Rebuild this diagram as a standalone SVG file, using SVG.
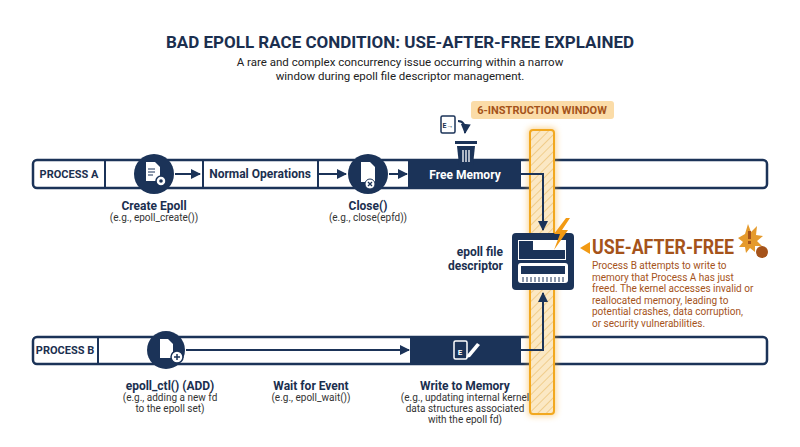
<svg xmlns="http://www.w3.org/2000/svg" width="800" height="447" viewBox="0 0 800 447">
<defs>
<style>
text{font-family:Roboto,"Liberation Sans",sans-serif;fill:#1b2f4f}
.t{font-weight:bold;font-size:12px;text-anchor:middle}
.s{font-size:10px;text-anchor:middle;fill:#333}
.bar{fill:#fff;stroke:#1b3358;stroke-width:2.5}
.ln{stroke:#1b3358;stroke-width:2;fill:none}
.dk{fill:#1b3358}
.o{fill:#a5531a;font-size:10px}
</style>
<marker id="ah" viewBox="0 0 10 10" refX="9" refY="5" markerWidth="5" markerHeight="5" orient="auto"><path d="M0,0L10,5L0,10z" fill="#1b3358"/></marker>
<pattern id="hatch" width="6" height="6" patternUnits="userSpaceOnUse" patternTransform="rotate(45)"><rect width="6" height="6" fill="#fbe8c4"/><line x1="0" y1="0" x2="0" y2="6" stroke="#f0cd8c" stroke-width="2"/></pattern>
<filter id="glow" x="-50%" y="-10%" width="200%" height="120%"><feGaussianBlur stdDeviation="3"/></filter>
</defs>
<rect width="800" height="447" fill="#fff"/>
<text x="400" y="48" style="font-size:17px;font-weight:bold;text-anchor:middle">BAD EPOLL RACE CONDITION: USE-AFTER-FREE EXPLAINED</text>
<text x="400" y="66" style="font-size:11.5px;text-anchor:middle;fill:#222">A rare and complex concurrency issue occurring within a narrow</text>
<text x="400" y="80" style="font-size:11.5px;text-anchor:middle;fill:#222">window during epoll file descriptor management.</text>

<g id="processA">
<rect class="bar" x="33" y="160" width="734" height="28" rx="4"/>
<line class="ln" x1="105" y1="160" x2="105" y2="188"/>
<text x="69" y="178" class="t" style="font-size:11px">PROCESS A</text>
</g>
<g id="processB">
<rect class="bar" x="33" y="337" width="734" height="27" rx="4"/>
<line class="ln" x1="98" y1="337" x2="98" y2="364"/>
<text x="65" y="354" class="t" style="font-size:11px">PROCESS B</text>
</g>

<g id="window">
<rect x="528" y="128" width="28" height="288" rx="4" fill="#f6a623" opacity="0.5" filter="url(#glow)"/>
<rect x="530" y="130" width="24" height="284" rx="3" fill="url(#hatch)" stroke="#f2a81f" stroke-width="2"/>
<rect x="471" y="101" width="143" height="18" rx="3" fill="#fbdca8"/>
<text x="542" y="114" style="font-size:11px;font-weight:bold;text-anchor:middle;fill:#a5531a">6-INSTRUCTION WINDOW</text>
</g>

<g id="createEpoll">
<circle cx="154" cy="174" r="20" class="dk"/>
<path d="M146,162h9l5,5v14h-14z" fill="#fff"/>
<path d="M148,169h7M148,172h7M148,175h5" stroke="#1b3358" stroke-width="1"/>
<circle cx="161" cy="181" r="5" fill="#fff" stroke="#1b3358" stroke-width="1.5"/>
<circle cx="161" cy="181" r="1.8" class="dk"/>
<text x="154" y="210" class="t">Create Epoll</text>
<text x="154" y="221" class="s">(e.g., epoll_create())</text>
</g>
<g id="normalOps">
<line class="ln" x1="203" y1="160" x2="203" y2="188"/>
<line class="ln" x1="318" y1="160" x2="318" y2="188"/>
<text x="260" y="178" class="t">Normal Operations</text>
</g>
<g id="close">
<circle cx="368" cy="174" r="20" class="dk"/>
<path d="M361,162h9l5,5v15h-14z" fill="#fff"/>
<circle cx="370" cy="184" r="5" fill="#fff" stroke="#1b3358" stroke-width="1"/>
<path d="M368,182l4,4M372,182l-4,4" stroke="#1b3358" stroke-width="1.3"/>
<text x="368" y="210" class="t">Close()</text>
<text x="368" y="221" class="s">(e.g., close(epfd))</text>
</g>
<g id="freeMemory">
<rect x="408" y="160" width="113" height="28" class="dk"/>
<text x="465" y="179" class="t" style="fill:#fff">Free Memory</text>
<rect x="441" y="116" width="14" height="17" rx="1.5" fill="#fff" stroke="#1b3358" stroke-width="1.5"/>
<text x="448" y="128" style="font-size:7px;font-weight:bold;text-anchor:middle">E→</text>
<path d="M458,121q8,0 7,12" class="ln" stroke-width="1.5" marker-end="url(#ah)"/>
<rect x="455" y="141" width="22" height="3" class="dk"/>
<path d="M457,146h18l-2,19h-14z" class="dk"/>
<path d="M463,150v12M466,150v12M469,150v12" stroke="#fff" stroke-width="1.3"/>
</g>
<g id="epollCtl">
<circle cx="166" cy="350" r="19" class="dk"/>
<path d="M160,339h8l5,5v14h-13z" fill="#fff"/>
<circle cx="177" cy="357" r="6" fill="#fff" stroke="#1b3358" stroke-width="1.5"/>
<path d="M174,357h6M177,354v6" stroke="#1b3358" stroke-width="1.5"/>
<text x="170" y="390" class="t">epoll_ctl() (ADD)</text>
<text x="170" y="401" class="s">(e.g., adding a new fd</text>
<text x="170" y="412" class="s">to the epoll set)</text>
</g>
<g id="waitEvent">
<text x="311" y="390" class="t">Wait for Event</text>
<text x="311" y="401" class="s">(e.g., epoll_wait())</text>
</g>
<g id="writeMemory">
<rect x="410" y="337" width="111" height="27" class="dk"/>
<rect x="454" y="341" width="13" height="18" rx="1.5" fill="none" stroke="#fff" stroke-width="1.5"/>
<text x="460" y="355" style="font-size:8px;font-weight:bold;fill:#fff;text-anchor:middle">E</text>
<path d="M467,355l10,-12l3,2l-10,12l-4,1z" fill="#fff"/>
<text x="465" y="390" class="t">Write to Memory</text>
<text x="465" y="401" class="s">(e.g., updating internal kernel</text>
<text x="465" y="412" class="s">data structures associated</text>
<text x="465" y="423" class="s">with the epoll fd)</text>
</g>
<g id="epollFd">
<rect x="512" y="233" width="62" height="57" rx="4" class="dk"/>
<rect x="518" y="240" width="48" height="20" fill="#fff"/>
<rect x="519" y="241" width="14" height="18" class="dk"/>
<rect x="533" y="250" width="32" height="9" class="dk"/>
<rect x="518" y="263" width="50" height="20" rx="3" fill="#fff"/>
<rect x="521" y="266" width="44" height="8" class="dk"/>
<path d="M523,277v5M527,277v5M531,277v5M535,277v5M539,277v5M543,277v5M547,277v5M551,277v5M555,277v5M559,277v5M563,277v5" stroke="#1b3358" stroke-width="1"/>
<path d="M566,218l-12,16h6l-6,16l14,-20h-6l8,-12z" fill="#f29a13"/>
<text x="503" y="256" class="t" style="text-anchor:end">epoll file</text>
<text x="503" y="270" class="t" style="text-anchor:end">descriptor</text>
</g>
<g id="useAfterFree">
<path d="M580,248l10,-6v12z" fill="#f29a13"/>
<text x="592" y="254" textLength="142" lengthAdjust="spacingAndGlyphs" style="font-size:20px;font-weight:bold;fill:#a5531a">USE-AFTER-FREE</text>
<path d="M745,234l3,-10l3,8l6,-6l-1,9l7,1l-6,5l5,5h-7l0,6l-5,-4l-4,5l-1,-6l-6,0l4,-5l-5,-4z" fill="#e59a2c"/>
<rect x="748" y="231" width="3" height="8" fill="#a5531a"/>
<rect x="748" y="241" width="3" height="3" fill="#a5531a"/>
<circle cx="762" cy="252" r="6" fill="#a5531a"/>
<text x="592" y="269" class="o">Process B attempts to write to</text>
<text x="592" y="280.5" class="o">memory that Process A has just</text>
<text x="592" y="292" class="o">freed. The kernel accesses invalid or</text>
<text x="592" y="303.5" class="o">reallocated memory, leading to</text>
<text x="592" y="315" class="o">potential crashes, data corruption,</text>
<text x="592" y="326.5" class="o">or security vulnerabilities.</text>
</g>

<g id="connectors">
<line class="ln" x1="175" y1="174" x2="200" y2="174" marker-end="url(#ah)"/>
<line class="ln" x1="318" y1="174" x2="346" y2="174" marker-end="url(#ah)"/>
<line class="ln" x1="389" y1="174" x2="407" y2="174" marker-end="url(#ah)"/>
<path class="ln" d="M521,174H543V230" marker-end="url(#ah)"/>
<line class="ln" x1="186" y1="350" x2="409" y2="350" marker-end="url(#ah)"/>
<path class="ln" d="M521,350H543V293" marker-end="url(#ah)"/>
</g>
</svg>
